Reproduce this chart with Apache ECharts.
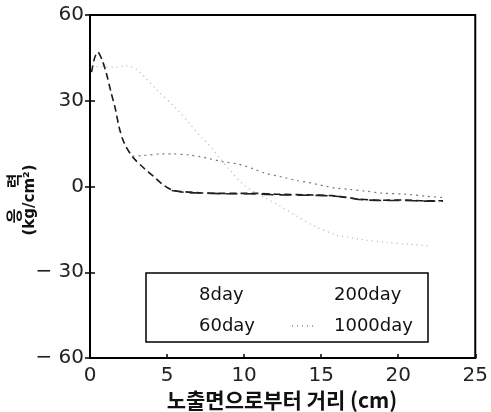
<!DOCTYPE html>
<html><head><meta charset="utf-8">
<script src="https://cdn.jsdelivr.net/npm/echarts@6/dist/echarts.min.js"></script>
<style>html,body{margin:0;padding:0;background:#fff}#c{width:491px;height:412px}</style>
</head><body><div id="c"></div>
<script>
const seriesNames = ['8day', '60day', '200day', '1000day'];
const xTicks = [0, 5, 10, 15, 20, 25];
const yTicks = [-60, -30, 0, 30, 60];
const yTickLabels = ['\u2212 60', '\u2212 30', '0', '30', '60'];
const xAxisTitle = '노출면으로부터 거리 (cm)';
const yTitleWord1 = '응';
const yTitleWord2 = '력';
const yTitleUnit = '(kg/cm²)';

const day8 = [[0.1,40],[0.3,45],[0.5,47],[0.8,44],[1.06,39.6],[1.38,32.6],[1.64,27.3],[1.91,20.3],[2.23,15.1],[2.76,10.4],[3.4,6.9],[4.03,4.0],[4.67,0.9],[5.3,-1.2],[6.05,-1.8],[7.1,-2.2],[8.6,-2.4],[10.8,-2.4],[12.1,-2.7],[14.6,-3.0],[15.7,-3.2],[16.8,-3.9],[17.4,-4.4],[18.9,-4.8],[20.4,-4.7],[21.7,-5.0],[22.9,-5.0]];
const day60 = [[2.76,10.6],[3.4,10.8],[4.67,11.4],[5.3,11.4],[6.5,11.0],[7.2,10.4],[7.85,9.6],[8.6,8.7],[9.55,7.9],[10.0,7.3],[10.7,6.0],[11.4,4.6],[12.4,3.4],[13.5,2.0],[14.1,1.5],[14.6,0.9],[15.2,0.2],[15.9,-0.5],[16.8,-1.0],[18.0,-1.7],[18.9,-2.3],[20.5,-2.7],[21.8,-3.4],[23.0,-3.9]];
const day200 = [[5.3,-1.4],[6.1,-2.0],[7.1,-2.3],[8.6,-2.5],[10.8,-2.6],[12.1,-2.9],[14.6,-3.1],[15.7,-3.3],[16.8,-4.0],[17.4,-4.5],[18.9,-4.9],[20.4,-4.9],[21.7,-5.1],[22.9,-5.1]];
const day1000 = [[0.1,41.9],[0.8,42.0],[1.6,41.7],[2.4,42.2],[3.0,41.0],[3.6,38.0],[4.35,33.7],[5.6,27.3],[6.5,21.8],[7.3,16.8],[7.6,15.3],[8.0,12.8],[8.4,10.0],[9.2,5.0],[10.0,0.5],[10.7,-2.0],[11.4,-4.1],[12.3,-6.7],[13.4,-10.3],[14.6,-14.0],[16.1,-17.2],[16.7,-17.6],[17.4,-18.4],[19.3,-19.6],[20.7,-20.2],[22.1,-20.8]];

const seriesData = [day8, day60, day200, day1000];
const lineStyles = [
  {color:'#1a1a1a', width:1.6, type:[7,4]},
  {color:'#777', width:1.2, type:[2,4]},
  {color:'#222', width:1.6, type:[12,6]},
  {color:'#aaa', width:1.1, type:[1,4]}
];
const legendFade = [0, 0, 0, 1];

const chart = echarts.init(document.getElementById('c'));
const font = 'DejaVu Sans';
const legendText = {fontFamily:font, fontSize:18, color:'#111', lineHeight:20};
chart.setOption({
  animation:false,
  backgroundColor:'#fff',
  grid:{left:90, right:11, top:15, bottom:54, show:true, borderColor:'#000', borderWidth:2},
  xAxis:{type:'value', min:0, max:25, interval:5,
    axisLine:{show:true, onZero:false, lineStyle:{color:'#000', width:2}},
    axisTick:{show:true, inside:true, length:4, lineStyle:{color:'#000', width:1.5}},
    splitLine:{show:false},
    axisLabel:{fontFamily:font, fontSize:20, color:'#222', margin:8,
      formatter:v => xTicks.includes(v) ? String(v) : ''}
  },
  yAxis:[{type:'value', min:-60, max:60, interval:30,
    axisLine:{show:true, onZero:false, lineStyle:{color:'#000', width:2}},
    axisTick:{show:true, length:5, lineStyle:{color:'#000', width:1.5}},
    splitLine:{show:false},
    axisLabel:{fontFamily:font, fontSize:20, color:'#222', margin:6,
      formatter:v => yTickLabels[yTicks.indexOf(v)]}
  },{type:'value', min:-60, max:60, interval:30, position:'left',
    axisLine:{show:false, onZero:false}, axisLabel:{show:false}, splitLine:{show:false},
    axisTick:{show:true, inside:true, length:5, lineStyle:{color:'#000', width:1.5}}
  }],
  legend:[
    {orient:'vertical', left:160, top:280, itemWidth:25, itemHeight:14, itemGap:11,
      data:seriesNames.slice(0,2).map((n,i)=>({name:n, lineStyle:{opacity:legendFade[i]}, itemStyle:{opacity:0}})),
      textStyle:Object.assign({padding:[0,0,0,3]}, legendText)},
    {orient:'vertical', left:286, top:280, itemWidth:25, itemHeight:14, itemGap:11,
      data:seriesNames.slice(2).map((n,i)=>({name:n, lineStyle:{opacity:legendFade[i+2]}, itemStyle:{opacity:0}})),
      textStyle:Object.assign({padding:[0,0,0,12]}, legendText)}
  ],
  graphic:[
    {type:'rect', shape:{x:146, y:273, width:282, height:69}, style:{fill:'none', stroke:'#000', lineWidth:1.5}, z:50},
    {type:'text', x:282, y:400, style:{text:xAxisTitle, font:'bold 21px "Noto Sans CJK KR"', fill:'#111', textAlign:'center', textVerticalAlign:'middle'}},
    {type:'text', x:14, y:216, rotation:Math.PI/2, style:{text:yTitleWord1, font:'bold 16px "Noto Sans CJK KR"', fill:'#111', textAlign:'center', textVerticalAlign:'middle'}},
    {type:'text', x:14, y:181, rotation:Math.PI/2, style:{text:yTitleWord2, font:'bold 16px "Noto Sans CJK KR"', fill:'#111', textAlign:'center', textVerticalAlign:'middle'}},
    {type:'text', x:30, y:200, rotation:Math.PI/2, style:{text:yTitleUnit, font:'bold 15px "DejaVu Sans"', fill:'#111', textAlign:'center', textVerticalAlign:'middle'}}
  ],
  series:seriesNames.map((n,i)=>({
    name:n, type:'line', data:seriesData[i], smooth:0.3, symbol:'none', showSymbol:false,
    lineStyle:lineStyles[i], itemStyle:{color:lineStyles[i].color}
  }))
});
</script></body></html>
